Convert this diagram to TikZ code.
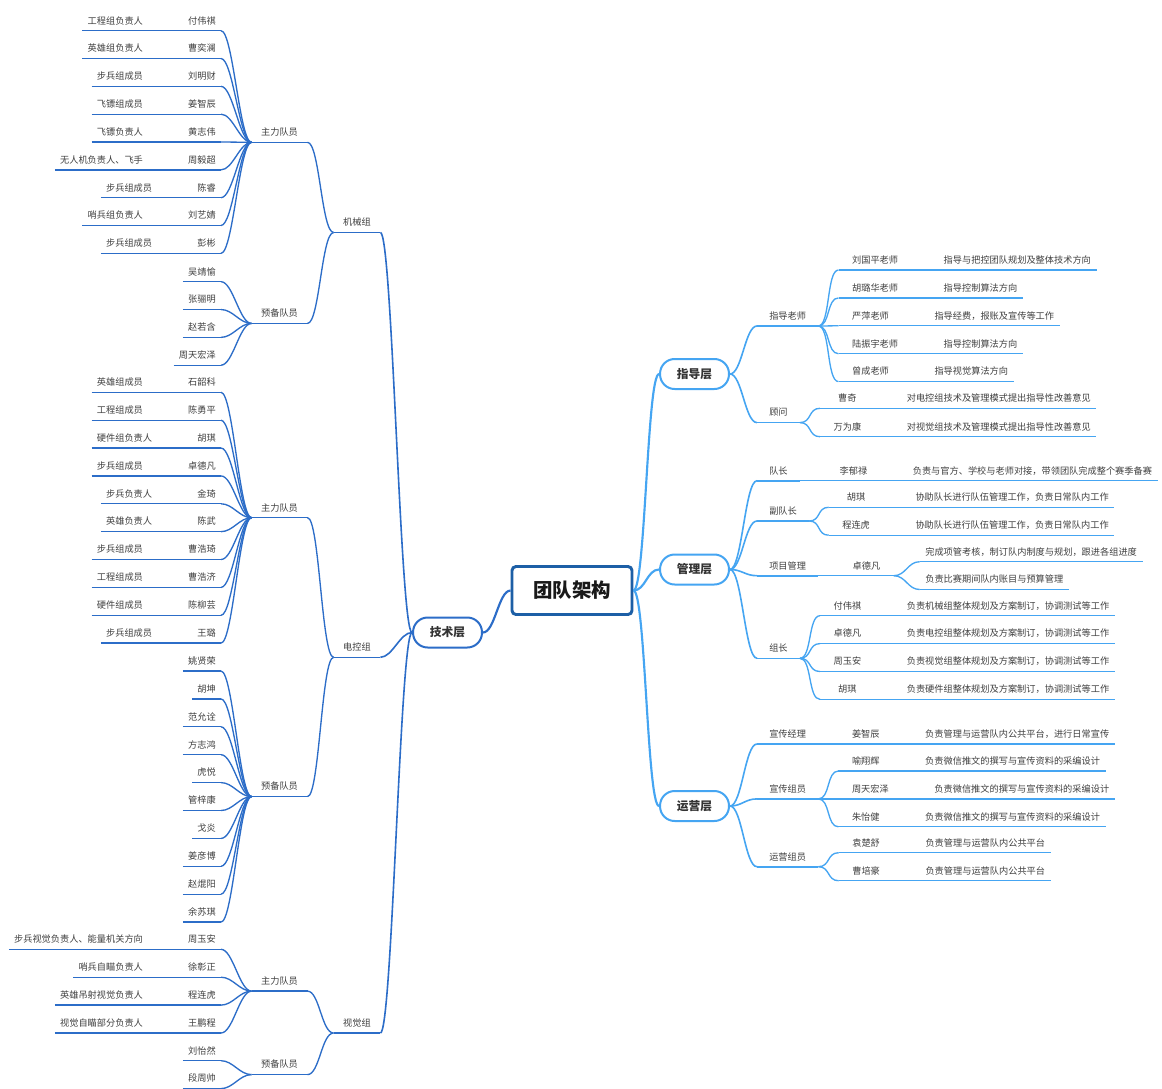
\documentclass[tikz,border=0pt]{standalone}
\usepackage{fontspec}
\setmainfont{Noto Sans CJK SC}
\usepackage{xcolor}
\usepackage{tikz}
\usetikzlibrary{positioning,calc}

\definecolor{rootblue}{HTML}{1D5FA6}
\definecolor{techblue}{HTML}{2C6DC8}
\definecolor{skyblue}{HTML}{45A5F2}
\definecolor{txtgray}{HTML}{404040}

\tikzset{
  lbl/.style={font=\fontsize{6.9}{8}\selectfont, text=txtgray, text height=6pt, text depth=1pt, inner ysep=3.8pt, inner xsep=3.75pt},
  grp/.style={lbl, inner xsep=7pt, anchor=south},
  sub/.style={lbl, inner xsep=9pt, anchor=south west},
  who/.style={lbl, inner xsep=10pt, minimum width=40.7pt, anchor=south west},
  duty/.style={lbl, inner xsep=4pt},
  layer/.style={draw, rounded corners=11pt, line width=1.5pt, fill=white, minimum width=51.7pt, minimum height=22.5pt, inner sep=0pt, font=\fontsize{8.8}{10}\selectfont\bfseries, text=black!80},
  rootbox/.style={draw=rootblue, line width=2.2pt, rounded corners=3pt, fill=white, minimum width=90pt, minimum height=36pt, font=\fontsize{14.6}{16}\selectfont\bfseries, text=black!90},
  lkL/.style={out=180, in=0, distance=9pt},
  lkR/.style={out=0, in=180, distance=9pt},
  lnL/.style={techblue, line width=1pt},
  lnR/.style={skyblue, line width=1pt},
}

\begin{document}
\begin{tikzpicture}[x=0.75pt, y=-0.75pt]
\path[use as bounding box, fill=white] (0,0) rectangle (1162,1088);

% root and the four layers
\node[rootbox] (root) at (572,590.5) {团队架构};
\node[layer, draw=techblue] (tech) at (447.5,632.5) {技术层};
\node[layer, draw=skyblue] (guide) at (694.5,374) {指导层};
\node[layer, draw=skyblue] (mgmt) at (694.5,569.5) {管理层};
\node[layer, draw=skyblue] (ops) at (694.5,806) {运营层};
\draw[techblue, line width=1.6pt] (root.west) to[lkL] (tech.east);
\foreach \n in {guide,mgmt,ops}
    \draw[skyblue, line width=1.6pt] (root.east) to[lkR] (\n.west);

%% ---------------- 技术层 (left) ----------------
\node[grp] (mech) at (357,232.5) {机械组};
\node[grp] (elec) at (357,657.3) {电控组};
\node[grp] (vis) at (357,1033) {视觉组};
\node[grp] (mechA) at (279.5,142.3) {主力队员};
\node[grp] (mechB) at (279.5,323.4) {预备队员};
\node[grp] (elecA) at (279.5,517.7) {主力队员};
\node[grp] (elecB) at (279.5,796.6) {预备队员};
\node[grp] (visA) at (279.5,991.1) {主力队员};
\node[grp] (visB) at (279.5,1074.6) {预备队员};
\foreach \g in {mech,elec,vis} {
    \draw[lnL, line width=1.2pt] (tech.west) to[lkL] (\g.south east);
    \draw[lnL, line width=1.2pt] (\g.south west) -- (\g.south east);
    \draw[lnL] (\g.south west) to[lkL] (\g A.south east);
    \draw[lnL] (\g.south west) to[lkL] (\g B.south east);
}
\foreach \g in {mechA,mechB,elecA,elecB,visA,visB}
    \draw[lnL] (\g.south west) -- (\g.south east);

% 机械组 主力队员
\foreach \i/\nm/\rl in {0/付伟祺/工程组负责人, 1/曹奕澜/英雄组负责人, 2/刘明财/步兵组成员,
    3/姜智辰/飞镖组成员, 4/黄志伟/飞镖负责人, 5/周毅超/无人机负责人、飞手,
    6/陈睿/步兵组成员, 7/刘艺婧/哨兵组负责人, 8/彭彬/步兵组成员} {
    \node[lbl, anchor=south east] (ma\i) at (221,{30.7+27.83*\i}) {\nm};
    \node[lbl, left=26pt of ma\i] (mar\i) {\rl};
    \draw[lnL] (mar\i.south west) -- (ma\i.south east);
    \draw[lnL] (mechA.south west) to[lkL] (ma\i.south east);
}
% 机械组 预备队员
\foreach \i/\nm in {0/吴靖愉, 1/张骊明, 2/赵若含, 3/周天宏泽} {
    \node[lbl, anchor=south east] (mb\i) at (221,{281.7+27.83*\i}) {\nm};
    \draw[lnL] (mb\i.south west) -- (mb\i.south east);
    \draw[lnL] (mechB.south west) to[lkL] (mb\i.south east);
}
% 电控组 主力队员
\foreach \i/\nm/\rl in {0/石韶科/英雄组成员, 1/陈勇平/工程组成员, 2/胡琪/硬件组负责人,
    3/卓德凡/步兵组成员, 4/金琦/步兵负责人, 5/陈武/英雄负责人, 6/曹浩琦/步兵组成员,
    7/曹浩济/工程组成员, 8/陈柳芸/硬件组成员, 9/王璐/步兵组成员} {
    \node[lbl, anchor=south east] (ea\i) at (221,{392.3+27.87*\i}) {\nm};
    \node[lbl, left=26pt of ea\i] (ear\i) {\rl};
    \draw[lnL] (ear\i.south west) -- (ea\i.south east);
    \draw[lnL] (elecA.south west) to[lkL] (ea\i.south east);
}
% 电控组 预备队员
\foreach \i/\nm in {0/姚贤荣, 1/胡坤, 2/范允诠, 3/方志鸿, 4/虎悦, 5/管梓康,
    6/戈炎, 7/姜彦博, 8/赵焜阳, 9/余苏琪} {
    \node[lbl, anchor=south east] (eb\i) at (221,{671+27.9*\i}) {\nm};
    \draw[lnL] (eb\i.south west) -- (eb\i.south east);
    \draw[lnL] (elecB.south west) to[lkL] (eb\i.south east);
}
% 视觉组 主力队员
\foreach \i/\nm/\rl in {0/周玉安/步兵视觉负责人、能量机关方向, 1/徐彰正/哨兵自瞄负责人,
    2/程连虎/英雄吊射视觉负责人, 3/王鹏程/视觉自瞄部分负责人} {
    \node[lbl, anchor=south east] (va\i) at (221,{949.3+27.9*\i}) {\nm};
    \node[lbl, left=26pt of va\i] (var\i) {\rl};
    \draw[lnL] (var\i.south west) -- (va\i.south east);
    \draw[lnL] (visA.south west) to[lkL] (va\i.south east);
}
% 视觉组 预备队员
\foreach \i/\nm in {0/刘怡然, 1/段周帅} {
    \node[lbl, anchor=south east] (vb\i) at (221,{1060.7+27.9*\i}) {\nm};
    \draw[lnL] (vb\i.south west) -- (vb\i.south east);
    \draw[lnL] (visB.south west) to[lkL] (vb\i.south east);
}

%% ---------------- 指导层 ----------------
\node[sub] (tutor) at (757,326) {指导老师};
\node[sub] (advis) at (757,422.6) {顾问};
\foreach \s in {tutor,advis} {
    \draw[lnR, line width=1.2pt] (guide.east) to[lkR] (\s.south west);
    \draw[lnR, line width=1.2pt] (\s.south west) -- (\s.south east);
}
\foreach \i/\nm/\ds in {0/刘国平老师/指导与把控团队规划及整体技术方向, 1/胡璐华老师/指导控制算法方向,
    2/严萍老师/指导经费，报账及宣传等工作, 3/陆振宇老师/指导控制算法方向, 4/曾成老师/指导视觉算法方向} {
    \node[who] (tu\i) at (838.5,{270+27.9*\i}) {\nm};
    \node[duty, right=19.8pt of tu\i] (tud\i) {\ds};
    \draw[lnR] (tu\i.south west) -- (tud\i.south east);
    \draw[lnR] (tutor.south east) to[lkR] (tu\i.south west);
}
\foreach \i/\nm/\ds in {0/曹奇/对电控组技术及管理模式提出指导性改善意见, 1/万为康/对视觉组技术及管理模式提出指导性改善意见} {
    \node[who] (ad\i) at (820,{408.3+28.4*\i}) {\nm};
    \node[duty, right=19.8pt of ad\i] (add\i) {\ds};
    \draw[lnR] (ad\i.south west) -- (add\i.south east);
    \draw[lnR] (advis.south east) to[lkR] (ad\i.south west);
}

%% ---------------- 管理层 ----------------
\node[sub] (capt) at (757,480.7) {队长};
\node[sub] (vice) at (757,521) {副队长};
\node[sub] (proj) at (757,575.7) {项目管理};
\node[sub] (lead) at (757,658.3) {组长};
\foreach \s in {capt,vice,proj,lead} {
    \draw[lnR, line width=1.2pt] (mgmt.east) to[lkR] (\s.south west);
    \draw[lnR, line width=1.2pt] (\s.south west) -- (\s.south east);
}
\node[who] (capt1) at (826,480.7) {李郁禄};
\node[duty, right=19.8pt of capt1] (capt1d) {负责与官方、学校与老师对接，带领团队完成整个赛季备赛};
\draw[lnR] (capt.south east) -- (capt1.south west) -- (capt1d.south east);
\foreach \i/\nm in {0/胡琪, 1/程连虎} {
    \node[who] (vc\i) at (828.7,{507.3+27.9*\i}) {\nm};
    \node[duty, right=19.8pt of vc\i] (vcd\i) {协助队长进行队伍管理工作，负责日常队内工作};
    \draw[lnR] (vc\i.south west) -- (vcd\i.south east);
    \draw[lnR] (vice.south east) to[lkR] (vc\i.south west);
}
\node[who] (proj1) at (839,575.7) {卓德凡};
\draw[lnR] (proj.south east) -- (proj1.south west) -- (proj1.south east);
\foreach \i/\ds in {0/完成项管考核，制订队内制度与规划，跟进各组进度, 1/负责比赛期间队内账目与预算管理} {
    \node[duty, anchor=south west] (pj\i) at (919.7,{561.7+27.8*\i}) {\ds};
    \draw[lnR] (pj\i.south west) -- (pj\i.south east);
    \draw[lnR] (proj1.south east) to[lkR] (pj\i.south west);
}
\foreach \i/\nm/\ds in {0/付伟祺/负责机械组整体规划及方案制订，协调测试等工作,
    1/卓德凡/负责电控组整体规划及方案制订，协调测试等工作,
    2/周玉安/负责视觉组整体规划及方案制订，协调测试等工作,
    3/胡琪/负责硬件组整体规划及方案制订，协调测试等工作} {
    \node[who] (ld\i) at (820,{615.7+27.9*\i}) {\nm};
    \node[duty, right=19.8pt of ld\i] (ldd\i) {\ds};
    \draw[lnR] (ld\i.south west) -- (ldd\i.south east);
    \draw[lnR] (lead.south east) to[lkR] (ld\i.south west);
}

%% ---------------- 运营层 ----------------
\node[sub] (pub) at (757,744) {宣传经理};
\node[sub] (pubm) at (757,798.9) {宣传组员};
\node[sub] (opsm) at (757,866.7) {运营组员};
\foreach \s in {pub,pubm,opsm} {
    \draw[lnR, line width=1.2pt] (ops.east) to[lkR] (\s.south west);
    \draw[lnR, line width=1.2pt] (\s.south west) -- (\s.south east);
}
\node[who] (pub1) at (838.4,744) {姜智辰};
\node[duty, right=19.8pt of pub1] (pub1d) {负责管理与运营队内公共平台，进行日常宣传};
\draw[lnR] (pub.south east) -- (pub1.south west) -- (pub1d.south east);
\foreach \i/\nm in {0/喻翔辉, 1/周天宏泽, 2/朱怡健} {
    \node[who] (pm\i) at (838.4,{771+27.9*\i}) {\nm};
    \node[duty, right=19.8pt of pm\i] (pmd\i) {负责微信推文的撰写与宣传资料的采编设计};
    \draw[lnR] (pm\i.south west) -- (pmd\i.south east);
    \draw[lnR] (pubm.south east) to[lkR] (pm\i.south west);
}
\foreach \i/\nm in {0/袁楚舒, 1/曹培豪} {
    \node[who] (om\i) at (838.7,{852.7+28*\i}) {\nm};
    \node[duty, right=19.8pt of om\i] (omd\i) {负责管理与运营队内公共平台};
    \draw[lnR] (om\i.south west) -- (omd\i.south east);
    \draw[lnR] (opsm.south east) to[lkR] (om\i.south west);
}
\end{tikzpicture}
\end{document}
